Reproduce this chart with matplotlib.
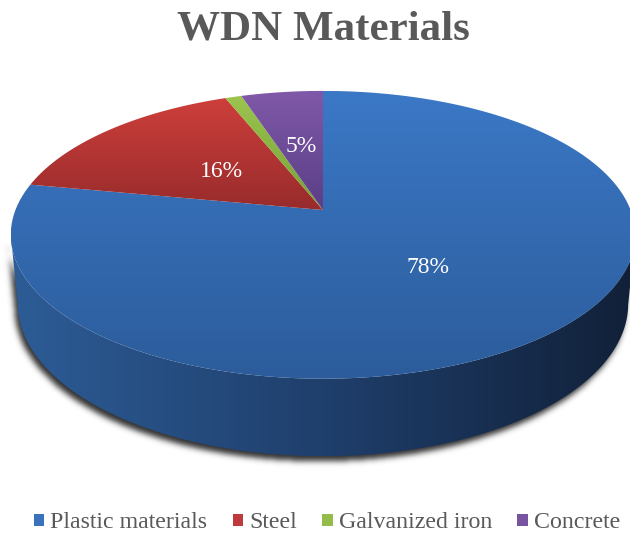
import numpy as np
import matplotlib
matplotlib.use("Agg")
import matplotlib.pyplot as plt
from matplotlib.path import Path
from matplotlib.patches import PathPatch, Patch
from matplotlib.colors import LinearSegmentedColormap

# pipe materials of the water distribution network (share, %)
materials = ["Plastic materials", "Steel", "Galvanized iron", "Concrete"]
shares = [78, 16, 1, 5]

top_light = ["#3b78c6", "#cd3f3b", "#9bc54e", "#8059a9"]
top_dark = ["#2c5c9b", "#982b2c", "#76a036", "#5a3e86"]
legend_colors = ["#3a72bb", "#c0393b", "#93bd48", "#7753a0"]
side_colors = ["#2d5c96", "#1f3f6c", "#112038"]
label_radius = [0.5, 0.45, None, 0.5]

W, H = 630, 535
CX, CY = 323, 210          # apex of the pie on the canvas
FOCAL = 1590.0
DIST = 5.17
ELEV = np.arcsin(0.454)
THICK = 0.254


def project(t_deg, r=1.0, z=0.0):
    """Perspective projection of a point on the disc (angle, radius, height)."""
    t = np.radians(t_deg)
    x = r * np.cos(t)
    y = r * np.sin(t)
    s, c = np.sin(ELEV), np.cos(ELEV)
    depth = DIST + y * c - z * s
    up = y * s + z * c
    return CX + FOCAL * x / depth, CY - FOCAL * up / depth


def closed_path(xs, ys):
    verts = np.column_stack([np.append(xs, xs[0]), np.append(ys, ys[0])])
    codes = [Path.MOVETO] + [Path.LINETO] * (len(xs) - 1) + [Path.CLOSEPOLY]
    return Path(verts, codes)


def fill_gradient(ax, xs, ys, colors, horizontal=False, zorder=2):
    path = closed_path(xs, ys)
    patch = PathPatch(path, facecolor="none", edgecolor="none", zorder=zorder)
    ax.add_patch(patch)
    cmap = LinearSegmentedColormap.from_list("grad", colors)
    ramp = np.linspace(0, 1, 256)
    img = ramp[None, :] if horizontal else ramp[:, None]
    im = ax.imshow(img, cmap=cmap, extent=(xs.min(), xs.max(), ys.max(), ys.min()),
                   aspect="auto", interpolation="bilinear", zorder=zorder)
    im.set_clip_path(patch)


def blur(arr, sigma):
    k = np.arange(-3 * sigma, 3 * sigma + 1)
    kernel = np.exp(-0.5 * (k / sigma) ** 2)
    kernel /= kernel.sum()
    arr = np.apply_along_axis(lambda r: np.convolve(r, kernel, mode="same"), 1, arr)
    arr = np.apply_along_axis(lambda c: np.convolve(c, kernel, mode="same"), 0, arr)
    return arr


fig = plt.figure(figsize=(6.3, 5.35), dpi=100)
ax = fig.add_axes([0, 0, 1, 1])

# side wall of the cylinder, between the left and right silhouette angles
rim_t = np.linspace(-270, 90, 1441)
rim_x, _ = project(rim_t)
t_left, t_right = rim_t[np.argmin(rim_x)], rim_t[np.argmax(rim_x)]
tt = np.linspace(t_left, t_right, 300)
tx, ty = project(tt)
bx, by = project(tt[::-1], z=-THICK)
side_x = np.concatenate([tx, bx])
side_y = np.concatenate([ty, by])

# soft drop shadow under the pie
gx, gy = np.meshgrid(np.arange(W) + 0.5, np.arange(H) + 0.5)
shadow_path = closed_path(side_x - 3, side_y + 5)
mask = shadow_path.contains_points(np.column_stack([gx.ravel(), gy.ravel()]))
mask = blur(mask.reshape(H, W).astype(float), 3)
shadow = np.zeros((H, W, 4))
shadow[..., :3] = 0.15
shadow[..., 3] = mask * 0.95
ax.imshow(shadow, extent=(0, W, H, 0), zorder=1, interpolation="bilinear")

fill_gradient(ax, side_x, side_y, side_colors, horizontal=True, zorder=2)

# top face slices, clockwise from twelve o'clock
start = 90.0
for i, v in enumerate(shares):
    span = 360.0 * v / sum(shares)
    ang = np.linspace(start, start - span, max(int(span * 2), 4))
    rx, ry = project(ang)
    xs = np.concatenate([[CX], rx])
    ys = np.concatenate([[CY], ry])
    fill_gradient(ax, xs, ys, [top_light[i], top_dark[i]], zorder=3 + i)
    if label_radius[i] is not None:
        lx, ly = project(start - span / 2, r=label_radius[i])
        ax.text(lx, ly, f"{v}%", ha="center", va="center", color="white",
                fontsize=17, family="Liberation Serif", zorder=10)
    start -= span

ax.set_xlim(0, W)
ax.set_ylim(H, 0)
ax.axis("off")

fig.text(323 / W, 1 - 30 / H, "WDN Materials", ha="center", va="center",
         fontsize=31, fontweight="bold", family="Liberation Serif", color="#595959")

handles = [Patch(facecolor=c, edgecolor="none") for c in legend_colors]
fig.legend(handles, materials, loc="center", bbox_to_anchor=(327 / W, 1 - 523 / H),
           ncol=4, frameon=False, prop={"family": "Liberation Serif", "size": 17.2},
           labelcolor="#595959", handlelength=0.45, handleheight=0.45,
           handletextpad=0.25, columnspacing=1.05, borderaxespad=0)

fig.savefig("out.png", dpi=100)
